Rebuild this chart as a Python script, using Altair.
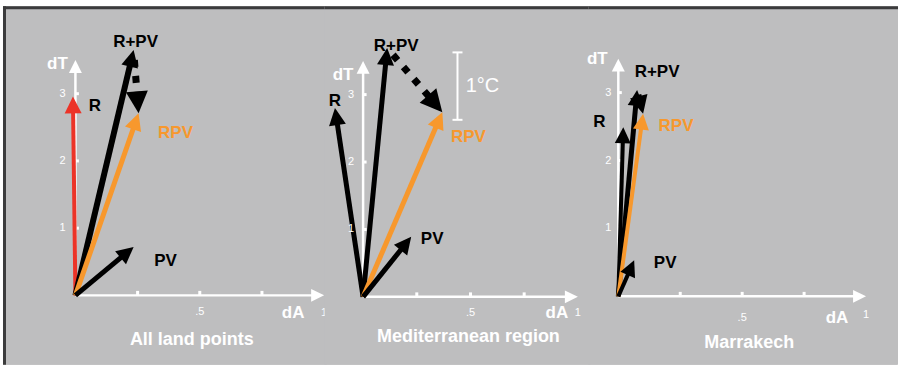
import math

import altair as alt
import pandas as pd

# ---------------------------------------------------------------- data
panel_titles = ["All land points", "Mediterranean region", "Marrakech"]
vector_names = ["R", "R+PV", "RPV", "PV"]

# change in albedo (dA) and in temperature (dT) of each vector, per panel
land_dA = [-0.01, 0.234, 0.254, 0.234]
land_dT = [2.96, 3.65, 2.71, 0.72]
med_dA = [-0.131, 0.112, 0.369, 0.224]
med_dT = [2.80, 3.69, 2.74, 0.89]
mar_dA = [0.02, 0.076, 0.100, 0.064]
mar_dT = [2.49, 3.04, 2.69, 0.53]

x_tick_values = [0.25, 0.5, 0.75]
x_tick_label_values = [0.5, 1.0]
x_tick_labels = [".5", "1"]
y_tick_values = [1, 2, 3]
y_tick_labels = ["1", "2", "3"]
axis_end_dA = 1.0
axis_end_dT = 3.5
scale_bar_degC = 1.0
scale_bar_label = "1°C"

panel_dA = [land_dA, med_dA, mar_dA]
panel_dT = [land_dT, med_dT, mar_dT]

# ---------------------------------------------------------------- style
BG = "#bebebf"
BORDER = "#3b3b3c"
WHITE = "#ffffff"
BLACK = "#000000"
ORANGE = "#f7982d"
RED = "#ec3327"
FONT = "Liberation Sans"
HEAD_PATH = "M0,0 L0.5,1 L-0.5,1 Z"  # arrowhead with its tip on the point

TOP_PAD = 6
HEIGHT = 359

layouts = [
    dict(left=3, width=323, x0=75.5, sx=249, y0=295.5, sy=67.3, head=17,
         shaft=[4, 6, 5, 5], colors=[RED, BLACK, ORANGE, BLACK],
         label_off=[(22, 10), (2, -8), (37, 20), (32, 14)],
         dash_gap=10, dash_w=7, dash_head=22,
         ylab_dx=-13, xlab_dy=[17, 18], dA_off=(-31, 18), dT_off=(-18, 4),
         title_xy=(192, 340)),
    dict(left=326, width=264, x0=363.5, sx=215, y0=297, sy=67.5, head=17,
         shaft=[5, 5, 5, 5], colors=[BLACK, BLACK, ORANGE, BLACK],
         label_off=[(0, -7), (9, -2), (26, 25), (21, 2)],
         dash_gap=9, dash_w=7, dash_head=22,
         ylab_dx=-12, xlab_dy=[16, 16], dA_off=(-21, 16), dT_off=(-20, 14),
         title_xy=(469, 337)),
    dict(left=590, width=308, x0=619, sx=248, y0=296.5, sy=68, head=16,
         shaft=[4, 5, 4, 4], colors=[BLACK, BLACK, ORANGE, BLACK],
         label_off=[(-24, -5), (20, -18), (33, 12), (31, 3)],
         dash_gap=5, dash_w=6, dash_head=18,
         ylab_dx=-10, xlab_dy=[22, 19], dA_off=(-29, 22), dT_off=(-21, 0),
         title_xy=(750, 343)),
]


def arrow(x1, y1, x2, y2, sx, sy, head, gap=0.0):
    """Shaft end points (in data units) and screen angle of an arrow."""
    vx, vy = (x2 - x1) * sx, (y2 - y1) * sy
    n = math.hypot(vx, vy)
    ux, uy = vx / n, vy / n
    back = head * 0.75
    return dict(
        x=x1 + gap * ux / sx, y=y1 + gap * uy / sy,
        x2=x2 - back * ux / sx, y2=y2 - back * uy / sy,
        hx=x2, hy=y2,
        angle=math.degrees(math.atan2(ux, uy)) % 360,
        size=(2 * head) ** 2,
    )


def panel(i):
    L = layouts[i]
    dA, dT = panel_dA[i], panel_dT[i]
    sx, sy = L["sx"], L["sy"]
    ox = L["x0"] - L["left"]
    oy = L["y0"] - TOP_PAD
    xdom = [-ox / sx, (L["width"] - ox) / sx]
    ydom = [-(HEIGHT - oy) / sy, oy / sy]

    def X(f):
        return alt.X(f, type="quantitative", axis=None,
                     scale=alt.Scale(domain=xdom, nice=False, zero=False))

    def Y(f):
        return alt.Y(f, type="quantitative", axis=None,
                     scale=alt.Scale(domain=ydom, nice=False, zero=False))

    color = alt.Color("color:N", scale=None, legend=None)

    shafts, heads, texts = [], [], []

    # axes with arrowheads
    ax = arrow(0, 0, axis_end_dA, 0, sx, sy, 13)
    ay = arrow(0, 0, 0, axis_end_dT, sx, sy, 13)
    for a in (ax, ay):
        shafts.append(dict(x=a["x"], y=a["y"], x2=a["x2"], y2=a["y2"], color=WHITE, w=2.5))
        heads.append(dict(x=a["hx"], y=a["hy"], angle=a["angle"], size=a["size"], color=WHITE))
    for t in x_tick_values:
        shafts.append(dict(x=t, y=0, x2=t, y2=4.5 / sy, color=WHITE, w=3))
    for t in y_tick_values:
        shafts.append(dict(x=0, y=t, x2=3.5 / sx, y2=t, color=WHITE, w=3))

    # tick labels and axis titles
    for v, lab in zip(y_tick_values, y_tick_labels):
        texts.append(dict(x=L["ylab_dx"] / sx, y=v, label=lab, color=WHITE, size=11, weight="normal"))
    for v, lab, dy in zip(x_tick_label_values, x_tick_labels, L["xlab_dy"]):
        texts.append(dict(x=v, y=-dy / sy, label=lab, color=WHITE, size=11, weight="normal"))
    texts.append(dict(x=axis_end_dA + L["dA_off"][0] / sx, y=-L["dA_off"][1] / sy,
                      label="dA", color=WHITE, size=17, weight="bold"))
    texts.append(dict(x=L["dT_off"][0] / sx, y=axis_end_dT - L["dT_off"][1] / sy,
                      label="dT", color=WHITE, size=17, weight="bold"))

    # the four vectors
    for k, name in enumerate(vector_names):
        a = arrow(0, 0, dA[k], dT[k], sx, sy, L["head"])
        shafts.append(dict(x=a["x"], y=a["y"], x2=a["x2"], y2=a["y2"],
                           color=L["colors"][k], w=L["shaft"][k]))
        heads.append(dict(x=a["hx"], y=a["hy"], angle=a["angle"], size=a["size"],
                          color=L["colors"][k]))
        dx, dy = L["label_off"][k]
        texts.append(dict(x=dA[k] + dx / sx, y=dT[k] - dy / sy, label=name,
                          color=ORANGE if name == "RPV" else BLACK, size=17, weight="bold"))

    # dotted arrow from R+PV to RPV
    d = arrow(dA[1], dT[1], dA[2], dT[2], sx, sy, L["dash_head"], gap=L["dash_gap"])
    heads.append(dict(x=d["hx"], y=d["hy"], angle=d["angle"], size=d["size"], color=BLACK))
    dash_df = pd.DataFrame([dict(x=d["x"], y=d["y"], x2=d["x2"], y2=d["y2"])])

    shaft_df = pd.DataFrame(shafts)
    head_df = pd.DataFrame(heads)
    text_df = pd.DataFrame(texts)

    one = pd.DataFrame({"k": [0]})
    x_start = 0 if i == 0 else -1
    layers = [
        # grey panel background, slightly wider than the view so panels join cleanly
        alt.Chart(one).mark_rect(color=BG, strokeWidth=0).encode(
            x=alt.value(x_start), x2=alt.value(L["width"] + 1),
            y=alt.value(0), y2=alt.value(HEIGHT)),
        # frame border along the top
        alt.Chart(one).mark_rect(color=BORDER, strokeWidth=0).encode(
            x=alt.value(x_start), x2=alt.value(L["width"] + 1),
            y=alt.value(0), y2=alt.value(3)),
        alt.Chart(shaft_df).mark_rule(strokeCap="butt").encode(
            x=X("x"), y=Y("y"), x2="x2", y2="y2", color=color,
            strokeWidth=alt.StrokeWidth("w:Q", scale=None, legend=None)),
        alt.Chart(dash_df).mark_rule(strokeCap="butt", color=BLACK, strokeWidth=L["dash_w"],
                                     strokeDash=[7, 9]).encode(
            x=X("x"), y=Y("y"), x2="x2", y2="y2"),
        alt.Chart(head_df).mark_point(shape=HEAD_PATH, filled=True, opacity=1, strokeWidth=0).encode(
            x=X("x"), y=Y("y"), color=color,
            angle=alt.Angle("angle:Q", scale=None, legend=None),
            size=alt.Size("size:Q", scale=None, legend=None)),
    ]
    for (size, weight), grp in text_df.groupby(["size", "weight"]):
        layers.append(
            alt.Chart(grp).mark_text(font=FONT, fontSize=int(size), fontWeight=weight,
                                     align="center", baseline="middle").encode(
                x=X("x"), y=Y("y"), text="label:N", color=color))

    if i == 0:
        # frame border on the left
        layers.insert(2, alt.Chart(one).mark_rect(color=BORDER, strokeWidth=0).encode(
            x=alt.value(0), x2=alt.value(3), y=alt.value(0), y2=alt.value(HEIGHT)))

    if i == 1:
        # 1 degree C scale bar
        bx = (458 - L["x0"]) / sx
        bmid = (L["y0"] - 86) / sy
        b0, b1 = bmid - scale_bar_degC / 2, bmid + scale_bar_degC / 2
        cap = 5 / sx
        bar_df = pd.DataFrame([
            dict(x=bx, y=b0, x2=bx, y2=b1),
            dict(x=bx - cap, y=b0, x2=bx + cap, y2=b0),
            dict(x=bx - cap, y=b1, x2=bx + cap, y2=b1),
        ])
        layers.append(alt.Chart(bar_df).mark_rule(color=WHITE, strokeWidth=2).encode(
            x=X("x"), y=Y("y"), x2="x2", y2="y2"))
        layers.append(alt.Chart(pd.DataFrame([dict(x=bx + 25 / sx, y=bmid, label=scale_bar_label)]))
                      .mark_text(font=FONT, fontSize=20, color=WHITE, align="center",
                                 baseline="middle").encode(x=X("x"), y=Y("y"), text="label:N"))

    # panel title
    tx, ty = L["title_xy"]
    layers.append(alt.Chart(pd.DataFrame({"label": [panel_titles[i]]})).mark_text(
        font=FONT, fontSize=18, fontWeight="bold", color=WHITE, align="center",
        baseline="middle").encode(
        x=alt.value(tx - L["left"]), y=alt.value(ty - TOP_PAD), text="label:N"))

    return alt.layer(*layers).properties(width=L["width"], height=HEIGHT)


chart = alt.hconcat(*[panel(i) for i in range(3)], spacing=0, bounds="flush").properties(
    padding={"left": 3, "top": TOP_PAD, "right": 1, "bottom": 0},
    background="white",
).configure_view(fill=BG, stroke=None)

chart.save("out.html", embed_options={"renderer": "svg", "actions": False})
